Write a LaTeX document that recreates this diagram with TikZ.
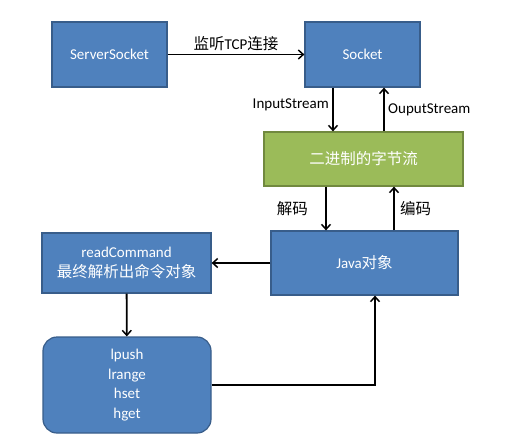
\documentclass[tikz,border=0pt]{standalone}
\usepackage{fontspec}
\setmainfont{Carlito}
\newfontfamily\cjk{Noto Sans CJK SC}
\usetikzlibrary{arrows.meta}
\definecolor{boxblue}{HTML}{4F81BD}
\definecolor{lineblue}{HTML}{385D8A}
\definecolor{boxgreen}{HTML}{9BBB59}
\definecolor{linegreen}{HTML}{71893F}
\newcommand{\zh}[1]{{\fontsize{15.5}{19}\cjk #1}}
\begin{document}
\begin{tikzpicture}[x=1pt,y=-1pt]
        \tikzset{block/.style = {shape=rectangle,draw=lineblue,fill=boxblue,line width=1.2pt,text=white,align=center,inner sep=0pt,font=\fontsize{15}{19.5}\selectfont}};
        \tikzset{bits/.style = {block,draw=linegreen,fill=boxgreen}};
        \tikzset{edge/.style = {-{Straight Barb[length=5pt,width=9pt,line width=1.5pt]},line width=1.8pt,font=\fontsize{15}{18}\selectfont}};
        \useasboundingbox (0,0) rectangle (524,445);
        \node[block,minimum width=115pt,minimum height=65pt] (server) at (109.5,54.5) {ServerSocket};
        \node[block,minimum width=115pt,minimum height=65pt] (socket) at (362.5,54.5) {Socket};
        \node[bits,minimum width=199pt,minimum height=54pt] (stream) at (363.5,159) {\zh{二进制的字节流}};
        \node[block,minimum width=187pt,minimum height=64pt] (java) at (364.5,263) {Java\zh{对象}};
        \node[block,minimum width=169pt,minimum height=60pt] (cmd) at (126.5,263) {readCommand\\\zh{最终解析出命令对象}};
        \node[block,rounded corners=14pt,minimum width=168pt,minimum height=96pt] (ops) at (127,385) {lpush\\lrange\\hset\\hget};
        \draw[edge] (server)  to node[above] {\zh{监听}TCP\zh{连接}} (socket);
        \draw[edge] ([xshift=-29.5pt]socket.south)  to node[left,pos=0.4] {InputStream} ([xshift=-29.5pt]socket.south |- stream.north);
        \draw[edge] ([xshift=20.5pt]stream.north)  to node[right] {OuputStream} ([xshift=20.5pt]stream.north |- socket.south);
        \draw[edge] ([xshift=-37.5pt]stream.south)  to node[left,xshift=-14pt] {\zh{解码}} ([xshift=-37.5pt]stream.south |- java.north);
        \draw[edge] ([xshift=30.5pt]stream.south |- java.north)  to node[right,xshift=2pt] {\zh{编码}} ([xshift=30.5pt]stream.south);
        \draw[edge] (java)  to (cmd);
        \draw[edge] (cmd)  to (ops);
        \draw[edge] (ops.east)  -| ([xshift=10.5pt]java.south);
    \end{tikzpicture}
\end{document}
